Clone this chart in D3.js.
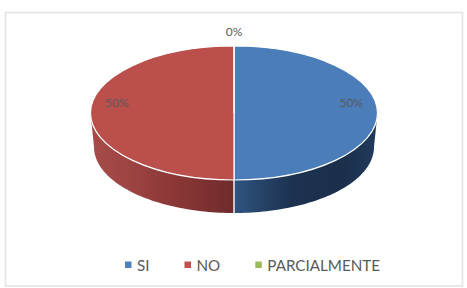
<!DOCTYPE html>
<html>
<head>
<meta charset="utf-8">
<script src="https://cdn.jsdelivr.net/npm/d3@7"></script>
<style>
html, body { margin: 0; padding: 0; background: #fff; }
svg { display: block; }
text { font-family: Lato, "Open Sans", sans-serif; }
</style>
</head>
<body>
<svg id="chart" width="467" height="288"></svg>
<script>
const categories = ["SI", "NO", "PARCIALMENTE"];
const percentages = [50, 50, 0];
const topColors = ["#4b7db9", "#bb4f4c", "#9bbb59"];
const legendColors = ["#4f81bd", "#c0504d", "#9bbb59"];
const wallStops = [
  ["#2f5480", "#1c3250", "#1b2f4b", "#213a5c"],
  ["#a64b49", "#9e4543", "#8a3736", "#6f2b2b"]
];
const wallOffsets = [
  [0, 0.4, 0.75, 1],
  [0, 0.25, 0.6, 1]
];

const svg = d3.select("#chart");

// Chart frame
svg.append("rect")
  .attr("x", 5.5).attr("y", 12.5)
  .attr("width", 457).attr("height", 273.5)
  .attr("fill", "#fff").attr("stroke", "#e4e4e4").attr("stroke-width", 1.6);

// The disc is a unit pie projected onto an ellipse; the wall's lower rim is a smaller ellipse.
const rim = { cx: 234, cy: 113, rx: 143.5, ry: 67 };
const base = { cx: 234, cy: 147, rx: 140, ry: 66 };
const px = e => d3.scaleLinear().domain([-1, 1]).range([e.cx - e.rx, e.cx + e.rx]);
const py = e => d3.scaleLinear().domain([-1, 1]).range([e.cy - e.ry, e.cy + e.ry]);
const onEllipse = (e, a, r = 1) => [px(e)(r * Math.sin(a)), py(e)(-r * Math.cos(a))];

const pie = d3.pie().sort(null).value(d => d);
const slices = pie(percentages);

const defs = svg.append("defs");
wallStops.forEach((stops, i) => {
  const g = defs.append("linearGradient")
    .attr("id", "wall" + i)
    .attr("x1", 0).attr("x2", 1).attr("y1", 0).attr("y2", 0);
  stops.forEach((c, k) => g.append("stop").attr("offset", wallOffsets[i][k]).attr("stop-color", c));
});

const line = d3.line();

// Wall: only the part of each slice that faces the viewer
slices.forEach((s, i) => {
  const a0 = Math.max(s.startAngle, Math.PI / 2);
  const a1 = Math.min(s.endAngle, Math.PI * 1.5);
  if (a1 <= a0) return;
  const steps = d3.range(0, 61).map(k => a0 + (a1 - a0) * k / 60);
  const pts = steps.map(a => onEllipse(rim, a)).concat(steps.slice().reverse().map(a => onEllipse(base, a)));
  svg.append("path")
    .attr("d", line(pts) + "Z")
    .attr("fill", `url(#wall${i})`);
});

// White seam down the wall between the two visible slices
const seam = slices[1].startAngle;
svg.append("path")
  .attr("d", line([onEllipse(rim, seam), onEllipse(base, seam)]))
  .attr("stroke", "#fff").attr("stroke-width", 1.4);

// Top surface
const unitArc = d3.arc().innerRadius(0).outerRadius(1);
svg.append("g")
  .attr("transform", `translate(${rim.cx},${rim.cy}) scale(${rim.rx},${rim.ry})`)
  .selectAll("path")
  .data(slices)
  .join("path")
  .attr("d", unitArc)
  .attr("fill", (d, i) => topColors[i])
  .attr("stroke", "#fff")
  .attr("stroke-width", 1.2)
  .attr("vector-effect", "non-scaling-stroke");

// Percentage labels: filled slices inside the disc, empty ones above it
const labelRadius = d => d.value > 0 ? 0.817 : 1.22;
const labelLift = d => d.value > 0 ? -11 : 0;
svg.append("g")
  .selectAll("text")
  .data(slices)
  .join("text")
  .attr("x", d => onEllipse(rim, (d.startAngle + d.endAngle) / 2, labelRadius(d))[0])
  .attr("y", d => onEllipse(rim, (d.startAngle + d.endAngle) / 2, labelRadius(d))[1] + labelLift(d))
  .attr("text-anchor", "middle")
  .attr("dominant-baseline", "central")
  .attr("font-size", 12)
  .attr("fill", "#5a5a5a")
  .text(d => `${d.value}%`);

// Legend, laid out from the measured text widths
const legend = svg.append("g");
let x = 125;
categories.forEach((c, i) => {
  legend.append("rect")
    .attr("x", x).attr("y", 261.5)
    .attr("width", 6.5).attr("height", 6.5)
    .attr("fill", legendColors[i]);
  const label = legend.append("text")
    .attr("x", x + 12).attr("y", 264.5)
    .attr("dominant-baseline", "central")
    .attr("font-size", 15.2)
    .attr("fill", "#595959")
    .text(c);
  x += 12 + label.node().getComputedTextLength() + 35;
});
</script>
</body>
</html>
